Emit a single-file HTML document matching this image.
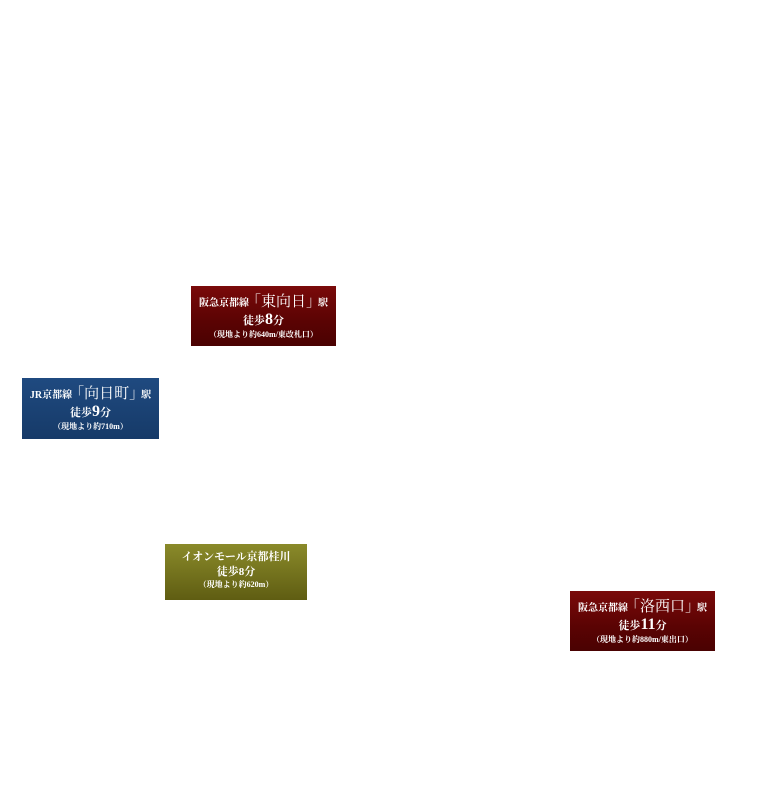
<!DOCTYPE html>
<html><head><meta charset="utf-8"><style>
html,body{margin:0;padding:0;background:#fff;width:768px;height:800px;overflow:hidden}
.b{position:absolute;color:#fff;text-align:center;font-family:"Liberation Serif","Noto Serif CJK JP",serif;font-weight:bold;box-sizing:border-box;line-height:1}
.r{background:linear-gradient(#7a0a0a,#5a0303 60%,#4a0202)}
.bl{background:linear-gradient(#1f4a80,#163a68)}
.ol{background:linear-gradient(#8a8a2a,#5f5d12)}
.l1{font-size:10px;margin-top:9px;white-space:nowrap}
.l1 big{font-size:15px;font-weight:normal;margin:0 -3px}
.l2{font-size:11px;margin-top:2px}
.l2 big{font-size:16px}
.l3{font-size:8px;margin-top:3px}
</style></head><body>
<div class="b r" style="left:191px;top:286px;width:145px;height:60px">
<div class="l1">阪急京都線<big>「東向日」</big>駅</div>
<div class="l2">徒歩<big>8</big>分</div>
<div class="l3">（現地より約640m/東改札口）</div></div>
<div class="b bl" style="left:22px;top:378px;width:137px;height:61px">
<div class="l1">JR京都線<big>「向日町」</big>駅</div>
<div class="l2">徒歩<big>9</big>分</div>
<div class="l3">（現地より約710m）</div></div>
<div class="b ol" style="left:165px;top:544px;width:142px;height:56px">
<div class="l1" style="font-size:11px;margin-top:8px">イオンモール京都桂川</div>
<div class="l2" style="margin-top:4px">徒歩8分</div>
<div class="l3">（現地より約620m）</div></div>
<div class="b r" style="left:570px;top:591px;width:145px;height:60px">
<div class="l1">阪急京都線<big>「洛西口」</big>駅</div>
<div class="l2">徒歩<big>11</big>分</div>
<div class="l3">（現地より約880m/東出口）</div></div>
</body></html>
